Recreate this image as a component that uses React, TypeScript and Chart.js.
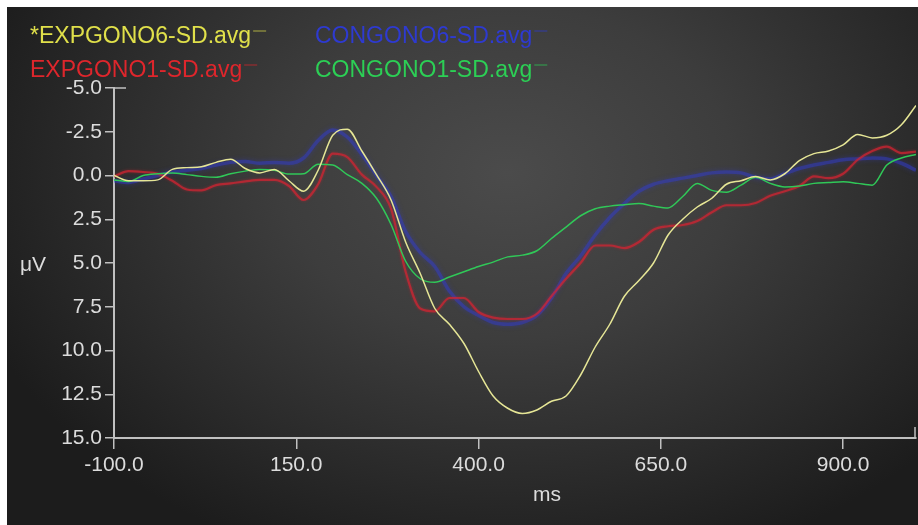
import React, { useEffect, useRef } from "react";
import { Chart, registerables } from "chart.js";

Chart.register(...registerables);

// ---- Data ----
const TIME_MS = [
  -100, -80, -60, -40, -20, 0, 20, 40, 60, 80,
  100, 120, 140, 160, 180, 200, 220, 240, 260, 280,
  300, 320, 340, 360, 380, 400, 420, 440, 460, 480,
  500, 520, 540, 560, 580, 600, 620, 640, 660, 680,
  700, 720, 740, 760, 780, 800, 820, 840, 860, 880,
  900, 920, 940, 960, 980, 1000,
];

const EXPGONO6 = [
  0.0, 0.3, 0.3, 0.25, -0.35, -0.45, -0.5, -0.75, -0.93, -0.4,
  -0.15, -0.35, 0.3, 0.9, -0.3, -2.3, -2.65, -1.4, -0.05, 1.4,
  3.8, 5.6, 7.6, 8.5, 9.6, 11.2, 12.6, 13.3, 13.6, 13.4,
  12.9, 12.6, 11.4, 9.8, 8.5, 6.9, 6.0, 5.0, 3.4, 2.5,
  1.8, 1.3, 0.5, 0.3, 0.06, 0.25, -0.1, -0.85, -1.25, -1.4,
  -1.75, -2.35, -2.15, -2.3, -2.9, -4.0,
];

const CONGONO6 = [
  0.3, 0.4, 0.2, 0.0, -0.2, -0.3, -0.4, -0.6, -0.75, -0.8,
  -0.7, -0.75, -0.7, -1.0, -2.0, -2.6, -2.2, -1.2, 0.0, 1.2,
  3.2, 4.4, 5.2, 6.6, 7.5, 8.0, 8.4, 8.5, 8.4, 8.0,
  7.0, 5.6, 4.6, 3.4, 2.4, 1.6, 0.9, 0.5, 0.3, 0.15,
  0.0, -0.15, -0.2, -0.15, 0.1, 0.2, -0.1, -0.4, -0.6, -0.75,
  -0.9, -0.95, -1.0, -0.95, -0.7, -0.3,
];

const EXPGONO1 = [
  0.05, -0.25, -0.2, -0.1, 0.3, 0.8, 0.85, 0.55, 0.45, 0.34,
  0.25, 0.25, 0.6, 1.4, 0.5, -1.25, -1.05, -0.05, 0.65, 1.9,
  5.5, 7.6, 7.76, 7.0, 7.0, 7.8, 8.12, 8.2, 8.2, 7.9,
  6.9, 5.9, 5.0, 4.0, 4.0, 4.15, 3.8, 3.1, 2.9, 2.83,
  2.6, 2.1, 1.7, 1.7, 1.57, 1.16, 0.9, 0.6, 0.05, 0.15,
  -0.1, -0.9, -1.4, -1.65, -1.28, -1.37,
];

const CONGONO1 = [
  0.25, 0.34, 0.0, -0.1, -0.14, -0.05, 0.05, 0.1, -0.1, -0.25,
  -0.35, -0.3, -0.08, -0.1, -0.65, -0.6, -0.05, 0.45, 1.3, 2.8,
  4.9, 5.9, 6.1, 5.8, 5.5, 5.2, 4.95, 4.65, 4.55, 4.3,
  3.6, 2.95, 2.3, 1.9, 1.75, 1.67, 1.6, 1.75, 1.85, 1.2,
  0.45, 0.85, 0.95, 0.55, 0.1, 0.45, 0.65, 0.6, 0.45, 0.4,
  0.35, 0.45, 0.55, -0.6, -1.0, -1.2,
];

const SERIES_LABELS = [
  "*EXPGONO6-SD.avg",
  "CONGONO6-SD.avg",
  "EXPGONO1-SD.avg",
  "CONGONO1-SD.avg",
];

const X_TICKS = [-100, 150, 400, 650, 900];
const Y_TICKS = [-5, -2.5, 0, 2.5, 5, 7.5, 10, 12.5, 15];
const X_TITLE = "ms";
const Y_TITLE = "μV";

// ---- Styles ----
const FONT = "'Liberation Sans', Arial, Helvetica, sans-serif";
const TEXT_COLOR = "#dcdcdc";
const AXIS_COLOR = "#c0c0c0";
const LINE_COLORS = [
  "rgba(230,230,150,1)",
  "rgba(50,60,200,0.5)",
  "rgba(210,36,50,0.72)",
  "rgba(48,200,88,1)",
];
const GLOW_COLORS = [
  "rgba(0,0,0,0)",
  "rgba(50,60,210,0.7)",
  "rgba(210,36,50,0.6)",
  "rgba(0,0,0,0)",
];
const LEGEND_COLORS = ["#e0e04a", "#2e3ad0", "#de262c", "#2ccf55"];
const LINE_WIDTHS = [1.5, 3.5, 2.2, 1.5];
const GLOW = [0, 5, 3, 0];
const DRAW_ORDER = [0, 3, 2, 1];

const toPoints = (vals: number[]) => TIME_MS.map((t, i) => ({ x: t, y: vals[i] }));

const overlayPlugin = {
  id: "erpOverlay",
  beforeDatasetDraw(chart: any, args: any) {
    const g = GLOW[args.index];
    const ctx = chart.ctx;
    ctx.save();
    if (g > 0) {
      ctx.shadowColor = GLOW_COLORS[args.index];
      ctx.shadowBlur = g;
    }
  },
  afterDatasetDraw(chart: any) {
    chart.ctx.restore();
  },
  afterDraw(chart: any) {
    const ctx = chart.ctx;
    const { left, right, top, bottom } = chart.chartArea;
    ctx.save();
    // axis end caps
    ctx.strokeStyle = AXIS_COLOR;
    ctx.lineWidth = 1.5;
    ctx.beginPath();
    ctx.moveTo(left, top);
    ctx.lineTo(left + 12, top);
    ctx.moveTo(right - 1, bottom);
    ctx.lineTo(right - 1, bottom - 11);
    ctx.stroke();

    // axis titles
    ctx.fillStyle = TEXT_COLOR;
    ctx.font = `21px ${FONT}`;
    ctx.textBaseline = "middle";
    ctx.textAlign = "left";
    ctx.fillText(Y_TITLE, 20, (top + bottom) / 2 + 2);
    ctx.textAlign = "center";
    ctx.fillText(X_TITLE, left + (right - left) * 0.54, bottom + 57);

    // legend (two columns, two rows), text followed by short line sample
    const cols = [30, 315];
    const rows = [43, 77];
    ctx.font = `23px ${FONT}`;
    ctx.textBaseline = "alphabetic";
    ctx.textAlign = "left";
    chart.data.datasets.forEach((ds: any, i: number) => {
      const x = cols[i % 2];
      const y = rows[Math.floor(i / 2)];
      ctx.fillStyle = LEGEND_COLORS[i];
      ctx.fillText(ds.label, x, y);
      const w = ctx.measureText(ds.label).width;
      ctx.strokeStyle = LEGEND_COLORS[i];
      ctx.globalAlpha = 0.6;
      ctx.lineWidth = 1.2;
      ctx.beginPath();
      ctx.moveTo(x + w + 2, y - 12);
      ctx.lineTo(x + w + 15, y - 12);
      ctx.stroke();
      ctx.globalAlpha = 1;
    });
    ctx.restore();
  },
};

export default function App() {
  const canvasRef = useRef<HTMLCanvasElement | null>(null);

  useEffect(() => {
    if (!canvasRef.current) return;
    const series = [EXPGONO6, CONGONO6, EXPGONO1, CONGONO1];
    const chart = new Chart(canvasRef.current, {
      type: "line",
      data: {
        datasets: series.map((vals, i) => ({
          label: SERIES_LABELS[i],
          data: toPoints(vals),
          borderColor: LINE_COLORS[i],
          borderWidth: LINE_WIDTHS[i],
          pointRadius: 0,
          fill: false,
          cubicInterpolationMode: "monotone" as const,
          order: DRAW_ORDER[i],
        })),
      },
      options: {
        animation: false,
        responsive: false,
        maintainAspectRatio: false,
        layout: { padding: { top: 88, right: 2, left: 0, bottom: 0 } },
        plugins: {
          legend: { display: false },
          tooltip: { enabled: false },
          title: { display: false },
        },
        scales: {
          x: {
            type: "linear",
            min: -100,
            max: 1000,
            afterBuildTicks: (s: any) => {
              s.ticks = X_TICKS.map((v) => ({ value: v }));
            },
            afterFit: (s: any) => {
              s.height = 87;
            },
            ticks: {
              color: TEXT_COLOR,
              font: { family: FONT, size: 21 },
              padding: 4,
              maxRotation: 0,
              autoSkip: false,
              callback: (v: any) => Number(v).toFixed(1),
            },
            grid: {
              drawOnChartArea: false,
              drawTicks: true,
              tickLength: 11,
              color: AXIS_COLOR,
              lineWidth: 1.5,
            },
            border: { display: true, color: AXIS_COLOR, width: 2 },
          },
          y: {
            type: "linear",
            reverse: true,
            min: -5,
            max: 15,
            afterBuildTicks: (s: any) => {
              s.ticks = Y_TICKS.map((v) => ({ value: v }));
            },
            afterFit: (s: any) => {
              s.width = 114;
            },
            ticks: {
              color: TEXT_COLOR,
              font: { family: FONT, size: 21 },
              padding: 3,
              autoSkip: false,
              callback: (v: any) => Number(v).toFixed(1),
            },
            grid: {
              drawOnChartArea: false,
              drawTicks: true,
              tickLength: 9,
              color: AXIS_COLOR,
              lineWidth: 1.5,
            },
            border: { display: true, color: AXIS_COLOR, width: 2 },
          },
        },
      },
      plugins: [overlayPlugin],
    });
    return () => chart.destroy();
  }, []);

  return (
    <div
      style={{
        position: "fixed",
        left: 0,
        top: 0,
        width: 918,
        height: 525,
        background: "#ffffff",
        overflow: "hidden",
      }}
    >
      <div
        style={{
          position: "absolute",
          left: 7,
          top: 7,
          width: 911,
          height: 518,
          background:
            "radial-gradient(ellipse 62% 80% at 55% 32%, #4b4b4b 0%, #3d3d3d 40%, #2a2a2a 75%, #1c1c1c 100%)",
        }}
      />
      <canvas
        ref={canvasRef}
        width={918}
        height={525}
        style={{ position: "absolute", left: 0, top: 0, width: 918, height: 525 }}
      />
    </div>
  );
}
